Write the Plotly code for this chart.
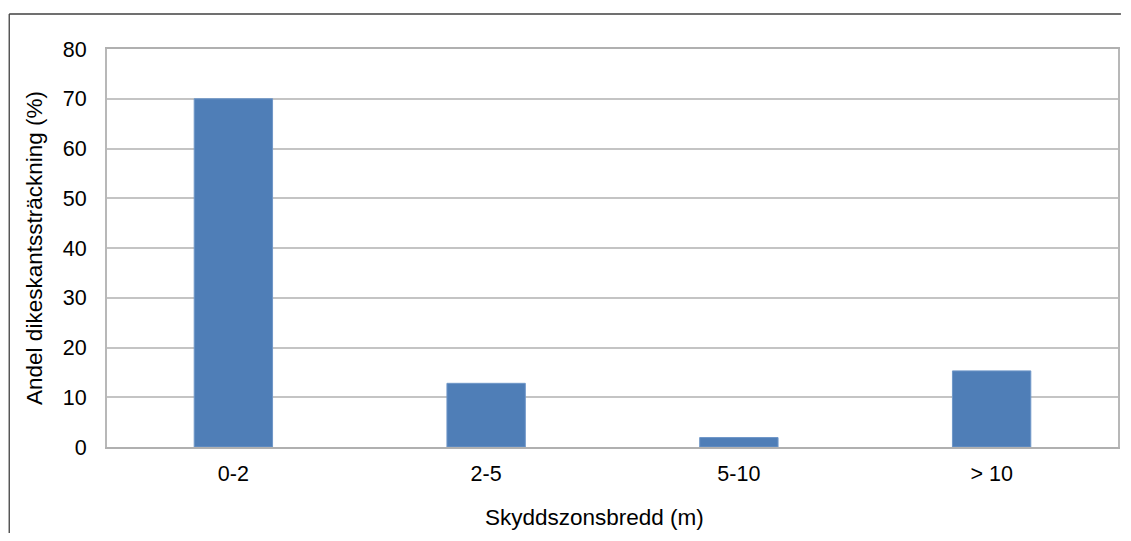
import plotly.graph_objects as go

categories = ["0-2", "2-5", "5-10", "> 10"]
values = [70.0, 12.8, 1.9, 15.3]
y_ticks = [0, 10, 20, 30, 40, 50, 60, 70, 80]
x_title = "Skyddszonsbredd (m)"
y_title = "Andel dikeskantssträckning (%)"

font_family = "Liberation Sans, Arial, sans-serif"

fig = go.Figure(
    go.Bar(
        x=categories,
        y=values,
        marker=dict(color="#4F7EB7", line=dict(color="#6F97C8", width=1)),
        width=0.31,
    )
)

# figure is drawn 8px in from the page corner (body margin); sized to fit the window
frame = dict(color="#404040", width=1.3)
fig.update_layout(
    width=1115,
    height=525,
    margin=dict(l=99, r=3, t=41, b=86),
    paper_bgcolor="white",
    plot_bgcolor="white",
    showlegend=False,
    font=dict(family=font_family, size=22, color="#000000"),
    shapes=[
        dict(type="line", xref="paper", yref="paper",
             x0=-0.0967, x1=1.0029, y0=1.088, y1=1.088, line=frame, layer="below"),
        dict(type="line", xref="paper", yref="paper",
             x0=-0.0967, x1=-0.0967, y0=-0.25, y1=1.088, line=frame, layer="below"),
    ],
    annotations=[
        dict(
            text=x_title, xref="paper", yref="paper", x=0.482, y=0,
            xanchor="center", yanchor="middle", yshift=-70,
            showarrow=False, font=dict(size=22.5),
        )
    ],
)

fig.update_xaxes(
    showline=True, linecolor="#B0B0B0", linewidth=2, mirror=True,
    ticks="outside", ticklen=6, tickcolor="rgba(0,0,0,0)",
    tickfont=dict(size=21.5), showgrid=False,
)
fig.update_yaxes(
    title=dict(text=y_title, font=dict(size=22.5), standoff=14),
    range=[0, 80], tickvals=y_ticks,
    showline=True, linecolor="#B8B8B8", linewidth=2, mirror=True,
    showgrid=True, gridcolor="#C4C4C4", gridwidth=1.5,
    ticks="outside", ticklen=14, tickcolor="rgba(0,0,0,0)",
    tickfont=dict(size=21.5), zeroline=False,
)

fig.write_html("out.html")
